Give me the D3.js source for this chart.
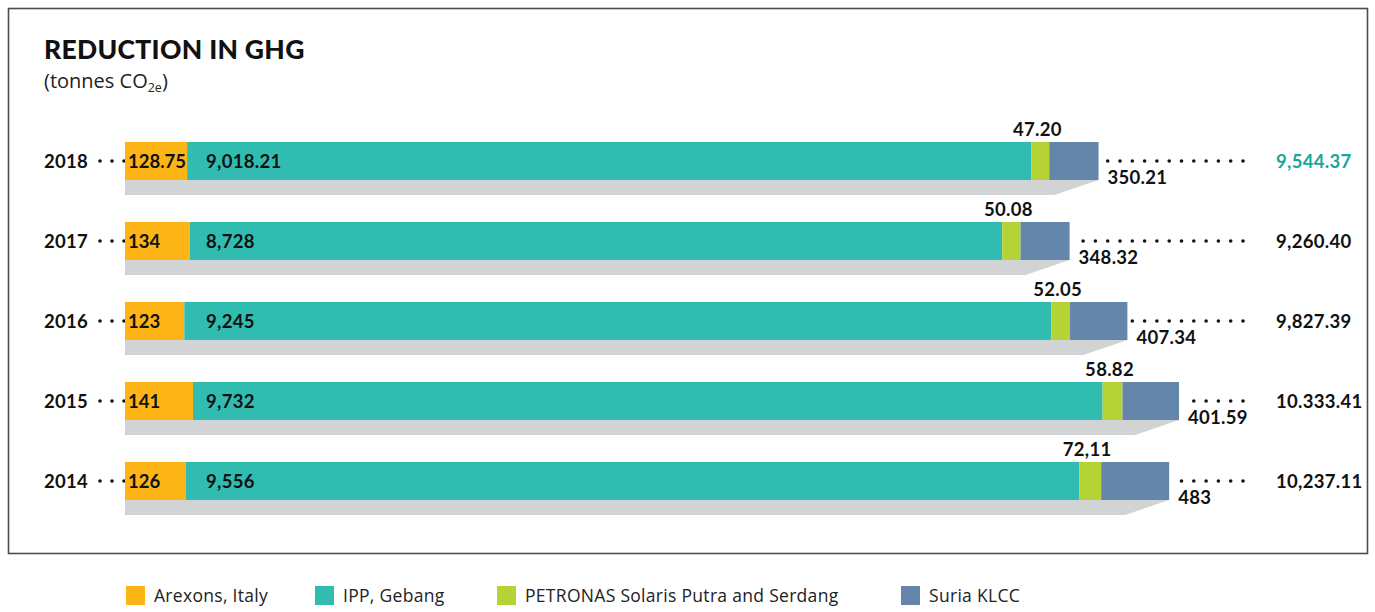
<!DOCTYPE html>
<html>
<head>
<meta charset="utf-8">
<script src="https://cdn.jsdelivr.net/npm/d3@7"></script>
<style>
  html, body { margin: 0; padding: 0; background: #fff; }
  svg { display: block; font-family: Lato, "Open Sans", sans-serif; }
</style>
</head>
<body>
<svg id="chart" width="1375" height="612"></svg>
<script>
// ---- data ----
const years = ["2018", "2017", "2016", "2015", "2014"];
const arexons = [128.75, 134, 123, 141, 126];
const ipp = [9018.21, 8728, 9245, 9732, 9556];
const solaris = [47.20, 50.08, 52.05, 58.82, 72.11];
const suria = [350.21, 348.32, 407.34, 401.59, 483];
const totals = [9544.37, 9260.40, 9827.39, 10333.41, 10237.11];
const arexonsLabels = ["128.75", "134", "123", "141", "126"];
const ippLabels = ["9,018.21", "8,728", "9,245", "9,732", "9,556"];
const solarisLabels = ["47.20", "50.08", "52.05", "58.82", "72,11"];
const suriaLabels = ["350.21", "348.32", "407.34", "401.59", "483"];
const totalLabels = ["9,544.37", "9,260.40", "9,827.39", "10.333.41", "10,237.11"];
const seriesNames = ["Arexons, Italy", "IPP, Gebang", "PETRONAS Solaris Putra and Serdang", "Suria KLCC"];
const colors = ["#fdb515", "#31bcb1", "#b5d334", "#6386aa"];

const svg = d3.select("#chart");
const LBL = 18.5;

// frame
svg.append("rect").attr("x", 8.5).attr("y", 8.5).attr("width", 1359).attr("height", 545)
  .attr("fill", "none").attr("stroke", "#4d4d4d").attr("stroke-width", 1.6);

// title
svg.append("text").attr("x", 44).attr("y", 59).attr("font-size", 26.5).attr("font-weight", 900)
  .attr("letter-spacing", 0.3).attr("fill", "#111").text("REDUCTION IN GHG");
const sub = svg.append("text").attr("x", 44).attr("y", 88).attr("font-size", 20)
  .attr("font-family", "'Open Sans', sans-serif").attr("fill", "#222");
sub.append("tspan").text("(tonnes CO");
sub.append("tspan").attr("font-size", 12.5).attr("dy", 4).text("2e");
sub.append("tspan").attr("dy", -4).text(")");

// scales
// total bar length is to scale; small segments are enlarged for legibility
const x = d3.scaleLinear().domain([0, 10000]).range([125, 1145]);
const wA = d3.scaleLinear().domain([0, 141]).range([0, 68]);
const wG = d3.scaleSqrt().domain([0, 72.11]).range([0, 22]);
const wB = d3.scaleLinear().domain([0, 483]).range([0, 68]);
const y = d3.scaleBand().domain(years).range([142, 500]).paddingInner(0.525).paddingOuter(0);
const barH = y.bandwidth(), shadowH = 15, slant = 44;

years.forEach((yr, i) => {
  const y0 = y(yr);
  const start = x(0), end = x(totals[i]);
  const bw = wB(suria[i]), gw = wG(solaris[i]), aw = wA(arexons[i]);
  const xA = start, xI = start + aw, xB = end - bw, xG = xB - gw;
  const g = svg.append("g");
  const cy = y0 + barH / 2;

  // shadow
  g.append("path").attr("fill", "#d1d3d4")
    .attr("d", `M${start},${y0 + barH} L${end},${y0 + barH} L${end - slant},${y0 + barH + shadowH} L${start},${y0 + barH + shadowH} Z`);

  // dots left
  for (let k = 0; k < 3; k++) {
    g.append("circle").attr("cx", start - 1 - k * 12).attr("cy", cy).attr("r", 1.8).attr("fill", "#111");
  }
  // dots right
  for (let dx = 1243; dx > end + 3; dx -= 12.3) {
    g.append("circle").attr("cx", dx).attr("cy", cy).attr("r", 1.8).attr("fill", "#111");
  }

  // segments
  const segs = [[xA, xI], [xI, xG], [xG, xB], [xB, end]];
  segs.forEach((s, j) => {
    g.append("rect").attr("x", s[0]).attr("y", y0).attr("width", s[1] - s[0]).attr("height", barH)
      .attr("fill", colors[j]);
  });

  const t = (xx, yy, s, anchor) => g.append("text").attr("x", xx).attr("y", yy)
    .attr("font-size", LBL).attr("font-weight", 700).attr("letter-spacing", 0.3)
    .attr("text-anchor", anchor || "start").attr("fill", "#111").text(s);

  t(44, cy + 7, yr);
  t(xA + 3, cy + 7, arexonsLabels[i]).attr("letter-spacing", 0);
  t(Math.max(xI + 10, start + 81), cy + 7, ippLabels[i]);
  t((xG + xB) / 2 - 3, y0 - 6, solarisLabels[i], "middle");
  t(end + 9, y0 + barH + 4, suriaLabels[i]);
  t(1276, cy + 7, totalLabels[i]).attr("fill", i === 0 ? "#17a89b" : "#111");
});

// legend
const legX = [126, 315, 497, 901];
seriesNames.forEach((n, j) => {
  svg.append("rect").attr("x", legX[j]).attr("y", 586).attr("width", 19).attr("height", 19).attr("fill", colors[j]);
  svg.append("text").attr("x", legX[j] + 28).attr("y", 602).attr("font-size", 17.5)
    .attr("letter-spacing", 0.3)
    .attr("font-family", "'Open Sans', sans-serif").attr("fill", "#222").text(n);
});
</script>
</body>
</html>
